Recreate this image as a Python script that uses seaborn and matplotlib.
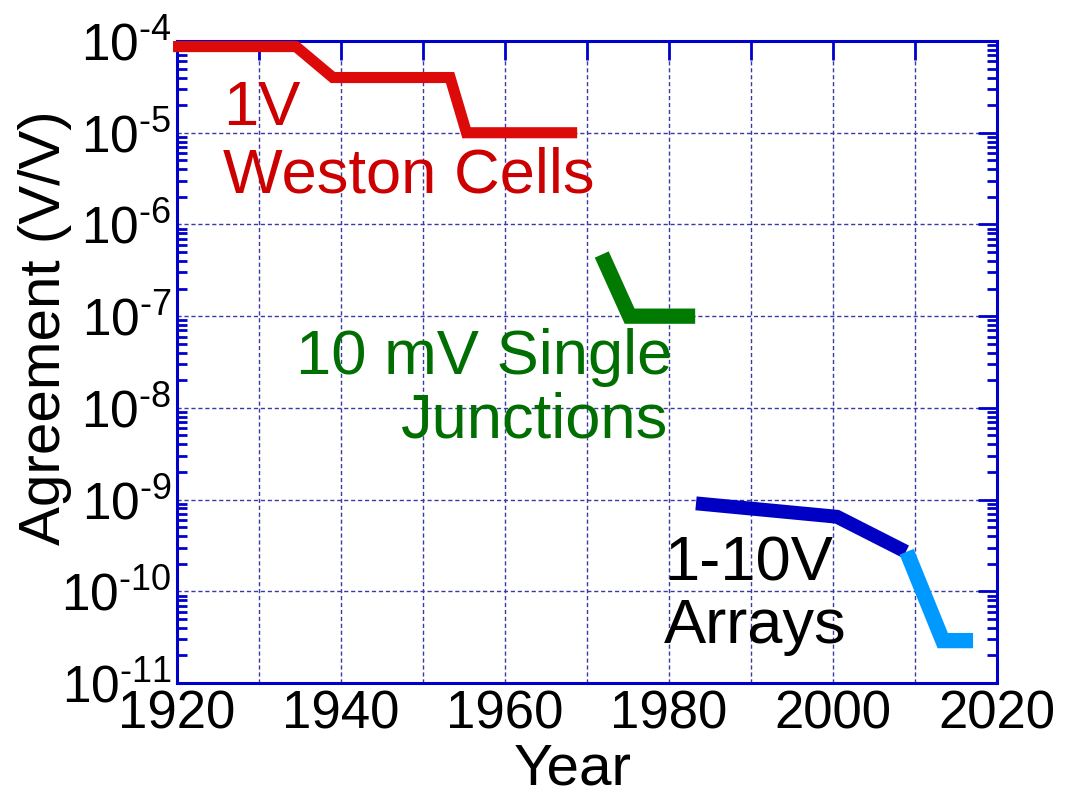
import numpy as np
import pandas as pd
import matplotlib
matplotlib.use('Agg')
import matplotlib.pyplot as plt
import seaborn as sns
from matplotlib.ticker import LogLocator, FuncFormatter, NullFormatter

# data
weston_year = [1919.5, 1934.5, 1939.0, 1953.3, 1955.3, 1968.8]
weston_agree = [0.87e-4, 0.87e-4, 4.0e-5, 4.0e-5, 1.0e-5, 1.0e-5]

single_year = [1971.8, 1975.2, 1983.2]
single_agree = [4.7e-7, 1.0e-7, 1.0e-7]

array_year = [1983.3, 2000.5, 2008.9]
array_agree = [9.1e-10, 6.5e-10, 2.7e-10]

new_array_year = [2009.0, 2013.4, 2017.1]
new_array_agree = [2.7e-10, 2.9e-11, 2.9e-11]

year_ticks = list(range(1920, 2021, 10))
year_labels = [str(y) if y % 20 == 0 else '' for y in year_ticks]

sns.set_style("white")
plt.rcParams['font.family'] = ['Liberation Sans', 'DejaVu Sans']
plt.rcParams['mathtext.fontset'] = 'custom'
plt.rcParams['mathtext.rm'] = 'Liberation Sans'
plt.rcParams['axes.unicode_minus'] = False

fig = plt.figure(figsize=(10.8, 7.92), dpi=100)
ax = fig.add_axes([0.164, 0.1376, 0.759, 0.8106])

edge = '#0000cc'
grid_col = '#3a3aa6'

series = [
    (weston_year, weston_agree, '#dd0a0a', 8.0),
    (single_year, single_agree, '#007a00', 11.0),
    (array_year, array_agree, '#0000c4', 10.0),
    (new_array_year, new_array_agree, '#0099ff', 11.0),
]
for xs, ys, col, lw in series:
    df = pd.DataFrame({'year': xs, 'agree': ys})
    sns.lineplot(data=df, x='year', y='agree', sort=False, color=col,
                 linewidth=lw, ax=ax, clip_on=False,
                 solid_joinstyle='miter', solid_capstyle='butt', zorder=3)

ax.set_yscale('log')
ax.set_xlim(1920, 2020)
ax.set_ylim(1e-11, 1e-4)

ax.set_xticks(year_ticks)
ax.set_xticklabels(year_labels)
ax.yaxis.set_major_locator(LogLocator(base=10, numticks=20))
ax.yaxis.set_minor_locator(LogLocator(base=10, subs=np.arange(2, 10), numticks=20))
ax.yaxis.set_minor_formatter(NullFormatter())
ax.yaxis.set_major_formatter(FuncFormatter(
    lambda v, pos: r'$\mathdefault{10^{\text{-}%d}}$' % round(-np.log10(v))))

ax.grid(True, which='major', color=grid_col, linestyle=(0, (3, 2)), linewidth=1.0)
ax.set_axisbelow(True)

for s in ax.spines.values():
    s.set_color(edge)
    s.set_linewidth(2.2)
    s.set_visible(True)

ax.tick_params(axis='both', which='major', direction='in', length=14, width=2,
               color=edge, top=True, right=True, pad=5, labelcolor='black')
ax.tick_params(axis='x', which='major', labelsize=38)
ax.tick_params(axis='y', which='major', labelsize=37, pad=4)
ax.tick_params(axis='y', which='minor', direction='in', length=7, width=2,
               color=edge, left=True, right=True)

ax.set_xlabel('Year', fontsize=42, color='black')
ax.set_ylabel('Agreement (V/V)', fontsize=42, color='black')
ax.xaxis.set_label_coords(0.482, -0.092)
ax.yaxis.set_label_coords(-0.128, 0.553)

txt = dict(fontsize=45.5, va='baseline')
ax.text(1925.6, 10**-4.916, '1V', color='#cc0000', ha='left', **txt)
ax.text(1925.6, 10**-5.647, 'Weston Cells', color='#cc0000', ha='left', **txt)
ax.text(1980.4, 10**-7.631, '10 mV Single', color='#006e00', ha='right', **txt)
ax.text(1979.9, 10**-8.318, 'Junctions', color='#006e00', ha='right', **txt)
ax.text(1979.4, 10**-9.878, '1-10V', color='black', ha='left', **txt)
ax.text(1979.4, 10**-10.565, 'Arrays', color='black', ha='left', **txt)

fig.savefig('out.png', dpi=100)
